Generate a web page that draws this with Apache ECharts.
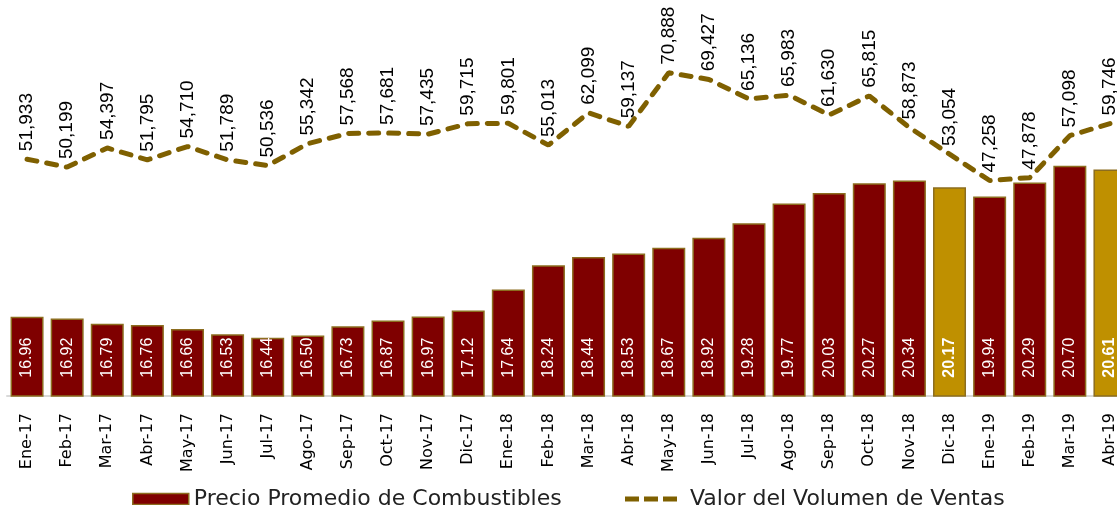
<!DOCTYPE html>
<html>
<head>
    <meta charset="utf-8">
    <script src="https://cdn.jsdelivr.net/npm/echarts@6/dist/echarts.min.js"></script>
    <style>
        html, body { margin: 0; padding: 0; overflow: hidden; background: #fff; }
    </style>
</head>
<body>
<!-- chart is a bit wider than the window, the last month is cut off like in the original -->
<div id="main" style="width: 1140px; height: 505px;"></div>
<script type="text/javascript">
    var months = ['Ene-17','Feb-17','Mar-17','Abr-17','May-17','Jun-17','Jul-17','Ago-17','Sep-17','Oct-17','Nov-17','Dic-17',
                  'Ene-18','Feb-18','Mar-18','Abr-18','May-18','Jun-18','Jul-18','Ago-18','Sep-18','Oct-18','Nov-18','Dic-18',
                  'Ene-19','Feb-19','Mar-19','Abr-19'];
    // precio promedio (barras)
    var precio = [16.96,16.92,16.79,16.76,16.66,16.53,16.44,16.50,16.73,16.87,16.97,17.12,
                  17.64,18.24,18.44,18.53,18.67,18.92,19.28,19.77,20.03,20.27,20.34,20.17,
                  19.94,20.29,20.70,20.61];
    // valor del volumen de ventas (linea)
    var ventas = [51933,50199,54397,51795,54710,51789,50536,55342,57568,57681,57435,59715,
                  59801,55013,62099,59137,70888,69427,65136,65983,61630,65815,58873,53054,
                  47258,47878,57098,59746];
    // meses resaltados en dorado
    var resaltados = ['Dic-18','Abr-19'];

    var rojo = '#7F0000';
    var dorado = '#BF9000';
    var borde = '#8C6D1F';
    var linea = '#7F6000';

    var barData = [];
    for (var i = 0; i < precio.length; i++) {
        var gold = resaltados.indexOf(months[i]) >= 0;
        barData.push({
            value: precio[i],
            itemStyle: { color: gold ? dorado : rojo },
            label: { fontWeight: gold ? 'bold' : 'normal' }
        });
    }

    var myChart = echarts.init(document.getElementById('main'));

    var option = {
        animation: false,
        grid: { left: 7, right: 10, top: 10, bottom: 109, containLabel: false },
        legend: [{
            data: [{
                name: 'Precio Promedio de Combustibles',
                icon: 'rect',
                itemStyle: { color: rojo, borderColor: borde, borderWidth: 1.5 }
            }],
            left: 127, top: 483,
            itemWidth: 56, itemHeight: 11, itemGap: 0,
            textStyle: { fontFamily: 'DejaVu Sans', fontSize: 22, color: '#222' }
        }, {
            data: [{
                name: 'Valor del Volumen de Ventas',
                icon: 'path://M0,0H14V5H0Z M19,0H33V5H19Z M38,0H52V5H38Z',
                itemStyle: { color: linea }
            }],
            left: 620, top: 483,
            itemWidth: 52, itemHeight: 5, itemGap: 0,
            textStyle: { fontFamily: 'DejaVu Sans', fontSize: 22, color: '#222', padding: [0, 0, 0, 8] }
        }],
        xAxis: {
            type: 'category',
            data: months,
            axisLine: { lineStyle: { color: '#D9D9D9', width: 2 } },
            axisTick: { show: false },
            axisLabel: {
                rotate: 90,
                interval: 0,
                margin: 17,
                color: '#000',
                fontFamily: 'DejaVu Sans',
                fontSize: 16
            }
        },
        yAxis: [
            { type: 'value', min: 15, max: 24.56, show: false, splitLine: { show: false } },
            { type: 'value', min: 0, max: 84650, show: false, splitLine: { show: false } }
        ],
        series: [{
            name: 'Precio Promedio de Combustibles',
            type: 'bar',
            data: barData,
            barWidth: 33,
            itemStyle: { color: rojo, borderColor: borde, borderWidth: 1.5 },
            label: {
                show: true,
                position: 'insideBottom',
                rotate: 90,
                align: 'left',
                verticalAlign: 'middle',
                distance: 19,
                color: '#fff',
                fontFamily: 'Liberation Sans',
                fontSize: 16,
                formatter: function (p) { return p.value.toFixed(2); }
            }
        }, {
            name: 'Valor del Volumen de Ventas',
            type: 'line',
            yAxisIndex: 1,
            data: ventas,
            showSymbol: true,
            symbol: 'circle',
            symbolSize: 0.1,
            lineStyle: { color: linea, width: 5, type: [10, 10], cap: 'round' },
            itemStyle: { color: linea },
            label: {
                show: true,
                position: 'top',
                rotate: 90,
                align: 'left',
                verticalAlign: 'middle',
                distance: 8,
                color: '#000',
                fontFamily: 'Liberation Sans',
                fontSize: 19,
                formatter: function (p) { return p.value.toLocaleString('en-US'); }
            }
        }]
    };

    myChart.setOption(option);
</script>
</body>
</html>
